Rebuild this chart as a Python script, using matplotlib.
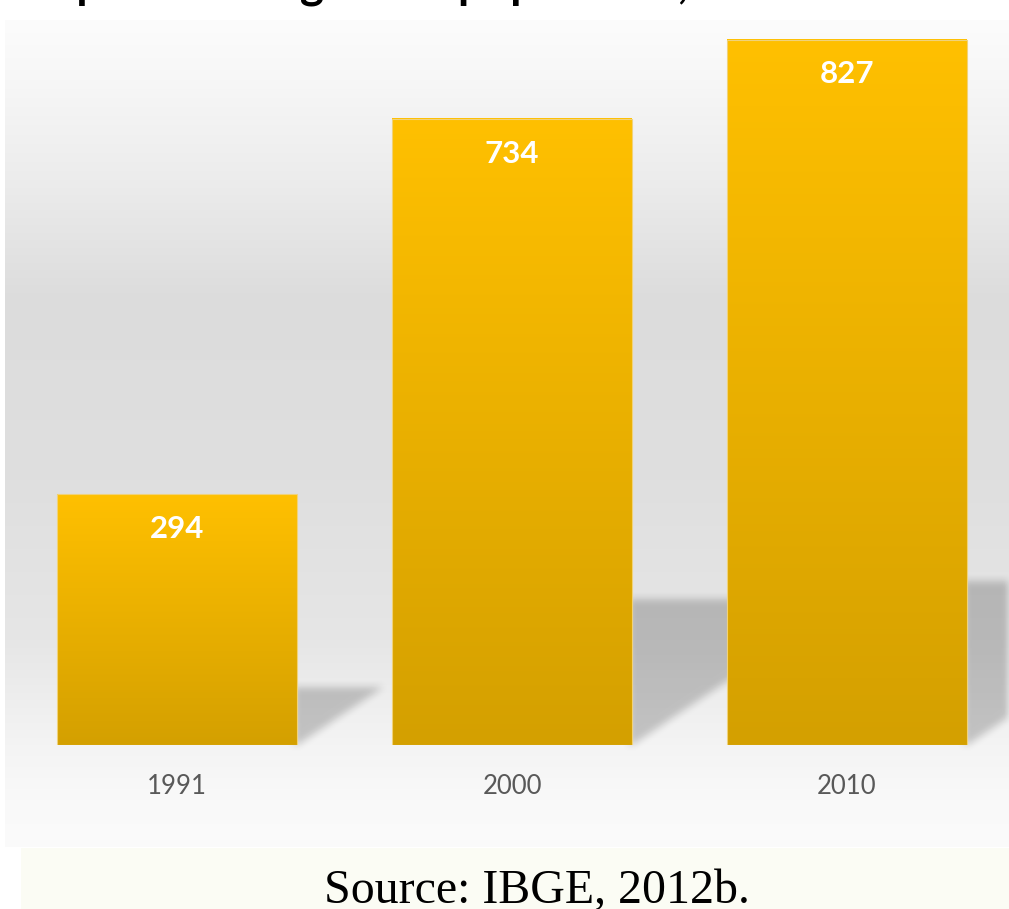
import numpy as np
import matplotlib
matplotlib.use("Agg")
import matplotlib.pyplot as plt
from matplotlib.colors import to_rgb
from matplotlib.patches import Rectangle

# ---- data ----
categories = ["1991", "2000", "2010"]
values = [294, 734, 827]
title_text = "Self-reported indigenous population, 1991\u20132010"
source_text = "Source: IBGE, 2012b."

W, H = 1009, 909
DPI = 100
fig = plt.figure(figsize=(W / DPI, H / DPI), dpi=DPI)
fig.patch.set_facecolor("white")

def fx(px):
    return px / W

def fy(py):  # py measured from top
    return 1 - py / H

# ---- chart background gradient ----
bg_left, bg_top, bg_right, bg_bottom = 5, 20, 1009, 847
bgax = fig.add_axes([fx(bg_left), fy(bg_bottom), fx(bg_right - bg_left), (bg_bottom - bg_top) / H], zorder=0)
stops_y = [20, 70, 180, 300, 480, 640, 745, 800, 847]
stops_c = ["#fcfcfc", "#f8f8f8", "#ececec", "#dcdcdc", "#dfdfdf", "#e6e6e6", "#f4f4f4", "#f9f9f9", "#fbfbfb"]
ys = np.arange(bg_top, bg_bottom)
cols = np.array([to_rgb(c) for c in stops_c])
grad = np.stack([np.interp(ys, stops_y, cols[:, k]) for k in range(3)], axis=-1)
bgimg = np.repeat(grad[:, None, :], 4, axis=1)
bgax.imshow(bgimg, aspect="auto", extent=[0, 1, 0, 1], interpolation="bilinear")
bgax.set_axis_off()

# ---- main axes ----
ax_left, ax_right = 9.5, 1014.5
base_py, top_py = 745, 20
ax = fig.add_axes([fx(ax_left), fy(base_py), fx(ax_right - ax_left), (base_py - top_py) / H], zorder=2)
ax.patch.set_alpha(0)
ymax = 850
ax.set_xlim(-0.5, len(values) - 0.5)
ax.set_ylim(0, ymax)
for s in ax.spines.values():
    s.set_visible(False)
ax.set_yticks([])
x = np.arange(len(values))
ax.set_xticks(x)
ax.set_xticklabels(categories, fontsize=18.5, color="#595959", family="Lato")
ax.tick_params(axis="x", length=0, pad=21)

bar_w = 0.716
top_col = np.array(to_rgb("#ffc000"))
bot_col = np.array(to_rgb("#d4a000"))
for xi, v in zip(x, values):
    g = np.linspace(0, 1, 256)[:, None]
    img = top_col[None, None, :] * (1 - g[..., None]) + bot_col[None, None, :] * g[..., None]
    img = np.repeat(img, 2, axis=1)
    ax.imshow(img, extent=[xi - bar_w / 2, xi + bar_w / 2, 0, v], aspect="auto",
              interpolation="bilinear", zorder=2)
    ax.add_patch(Rectangle((xi - bar_w / 2, 0), bar_w, v, facecolor="none",
                           edgecolor="#f0d27a", linewidth=0.8, zorder=3))
    ax.annotate(str(v), (xi, v), xytext=(0, -25), textcoords="offset points",
                ha="center", va="center", color="white", fontsize=22.5,
                fontweight="bold", family="Lato", zorder=4)
ax.set_xlim(-0.5, len(values) - 0.5)
ax.set_ylim(0, ymax)

# ---- shadows (computed in pixel space from bar geometry) ----
fig.canvas.draw()
trans = ax.transData
shadow_frac = 0.233
slope = 0.67
yy, xx = np.mgrid[0:H, 0:W]
yy = yy.astype(float) + 0.5  # display coords (origin lower)
xx = xx.astype(float) + 0.5
mask = np.zeros((H, W))
for xi, v in zip(x, values):
    (xr, yb) = trans.transform((xi + bar_w / 2, 0))
    (_, yt) = trans.transform((xi + bar_w / 2, v))
    sh = (yt - yb) * shadow_frac
    wdt = sh / slope
    inside = (yy >= yb) & (yy <= yb + sh) & (xx >= xr - 3) & (xx - xr <= wdt * (yy - yb) / sh)
    mask[inside] = 1.0

def box_blur(a, r):
    k = np.ones(2 * r + 1) / (2 * r + 1)
    a = np.apply_along_axis(lambda m: np.convolve(m, k, mode="same"), 0, a)
    a = np.apply_along_axis(lambda m: np.convolve(m, k, mode="same"), 1, a)
    return a

mask = box_blur(box_blur(mask, 4), 4)
shadow = np.zeros((H, W, 4))
shadow[..., 3] = mask * 0.2
shax = fig.add_axes([0, 0, 1, 1], zorder=1)
shax.imshow(shadow, origin="lower", extent=[0, W, 0, H], aspect="auto", interpolation="nearest")
shax.set_xlim(0, W)
shax.set_ylim(0, H)
shax.set_axis_off()
shax.images[0].set_clip_path(Rectangle((bg_left, H - bg_bottom), bg_right - bg_left, bg_bottom - bg_top,
                                       transform=shax.transData))

# ---- title (cropped at top, as in the reference) ----
fig.text(fx(-60), 1 + 2.0 / H, title_text, ha="left", va="baseline", fontsize=33,
         fontweight="bold", family="Lato", color="black")

# ---- source box ----
fig.patches.append(Rectangle((fx(21), 0), fx(1009 - 21), (909 - 848) / H,
                             transform=fig.transFigure, facecolor="#fbfcf4", edgecolor="none", zorder=0))
fig.text(fx(537), 1 - 903 / H, source_text, ha="center", va="baseline", fontsize=34.5,
         family="Liberation Serif", color="black")

fig.savefig("out.png", dpi=DPI)
